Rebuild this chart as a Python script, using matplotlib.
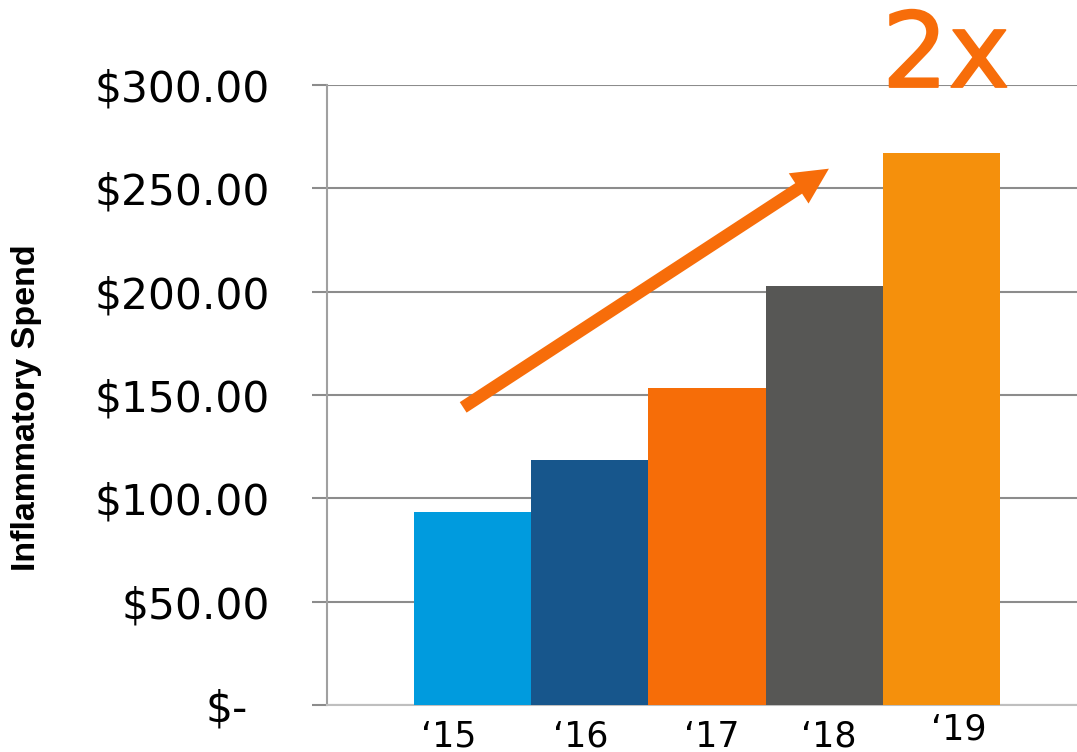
import matplotlib
matplotlib.use("Agg")
import matplotlib.pyplot as plt
import matplotlib.patheffects as pe
from matplotlib.patches import FancyArrowPatch
from matplotlib.transforms import ScaledTranslation

# data
years = ["\u201815", "\u201816", "\u201817", "\u201818", "\u201819"]
spend = [93.5, 118.5, 153.5, 202.5, 267.0]
bar_colors = ["#009BDE", "#17568C", "#F66D08", "#575755", "#F5900C"]
ytick_vals = [0, 50, 100, 150, 200, 250, 300]
ytick_labels = ["$-", "$50.00", "$100.00", "$150.00", "$200.00", "$250.00", "$300.00"]

orange = "#F76D0A"
grid_col = "#8C8C8C"

fig = plt.figure(figsize=(10.77, 7.52), dpi=100)
ax = fig.add_axes([0.3036, 0.0625, 0.7057, 0.8245])

x = list(range(len(years)))
ax.bar(x, spend, width=1.0, color=bar_colors, zorder=3)

ax.set_xlim(-1.242, 5.242)
ax.set_ylim(0, 300)

# grid and axes styling
ax.set_yticks(ytick_vals)
ax.set_yticklabels(ytick_labels, fontsize=30.5, family="DejaVu Sans")
ax.yaxis.grid(True, color=grid_col, lw=1.5, zorder=0)
ax.tick_params(axis="y", length=10.8, width=1.5, color=grid_col, pad=30.2)
ax.set_xticks([])
for s in ["top", "right"]:
    ax.spines[s].set_visible(False)
ax.spines["left"].set_color("#A0A0A0")
ax.spines["left"].set_linewidth(1.5)
ax.spines["bottom"].set_color("#BFBFBF")
ax.spines["bottom"].set_linewidth(1.5)

# accounting-format zero label sits further left
lab0 = ax.get_yticklabels()[0]
lab0.set_transform(lab0.get_transform() + ScaledTranslation(-22 / 100, 0, fig.dpi_scale_trans))

# category labels (hand-placed in the original)
label_dx = [-0.2, -0.08, 0.04, 0.04, 0.15]
label_dy = [-30.2, -30.2, -30.2, -30.2, -25.2]
for xi, lab, dx, dy in zip(x, years, label_dx, label_dy):
    ax.annotate(lab, xy=(xi + dx, 0), xytext=(0, dy), textcoords="offset points",
                ha="center", va="baseline", fontsize=25, family="DejaVu Sans",
                annotation_clip=False)

# growth arrow
arrow = FancyArrowPatch((-0.08, 144.0), (3.04, 259.5),
                        arrowstyle="simple,head_length=26,head_width=26,tail_width=9",
                        mutation_scale=1, color=orange, lw=0, shrinkA=0, shrinkB=0,
                        clip_on=False, zorder=4)
ax.add_patch(arrow)

fig.text(882 / 1077, 1 - 87 / 752, "2x", color=orange, fontsize=75,
         family="DejaVu Sans", ha="left", va="baseline",
         path_effects=[pe.withStroke(linewidth=1.3, foreground=orange)])

fig.text(27 / 1077, 1 - 408 / 752, "Inflammatory Spend", rotation=90,
         fontsize=24.5, fontweight="bold", family="Liberation Sans",
         ha="center", va="center")

fig.savefig("out.png", dpi=100)
